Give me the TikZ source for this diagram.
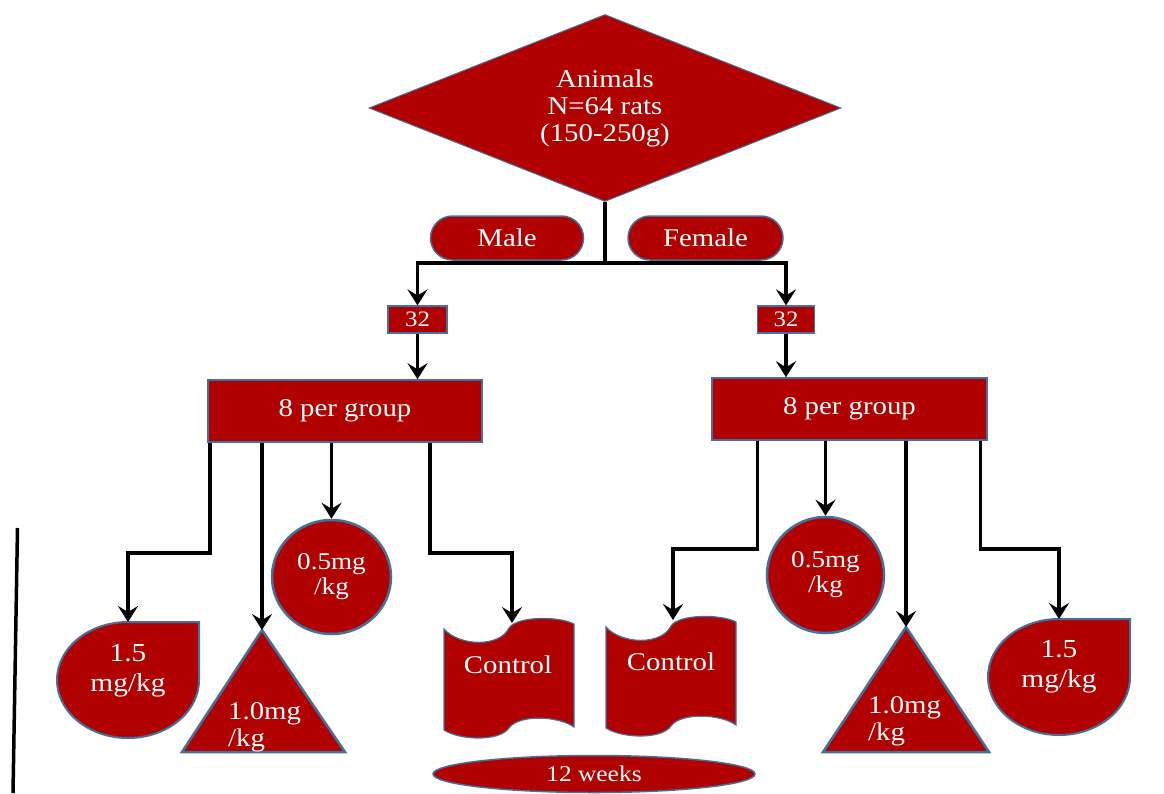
\documentclass[tikz,border=0pt]{standalone}
\usepackage{fontspec}
\setmainfont{Liberation Serif}[FakeStretch=1.13]
\usepackage{tikz}
\usetikzlibrary{positioning}
\usetikzlibrary{shapes.geometric}
\usetikzlibrary{arrows.meta}
\usepackage{xcolor}

\definecolor{ratred}{RGB}{176,0,0}
\definecolor{edgeblue}{RGB}{65,113,156}

% tape shaped box, drawn round a centre point
\newcommand{\tapebox}[1]{%
  \path[blk, line width=1.2pt, shift={#1}]
    (-65,-49) .. controls (-50,-32) and (-10,-30) .. (0,-50)
    .. controls (8,-62) and (50,-62) .. (65,-54) -- (65,49)
    .. controls (50,38) and (10,36) .. (0,50)
    .. controls (-10,64) and (-50,62) .. (-65,52) -- cycle;}

\begin{document}
\begin{tikzpicture}[x=1pt, y=-1pt,
    every node/.style={text=white, align=center, font=\fontsize{25.5}{27}\selectfont},
    blk/.style={fill=ratred, draw=edgeblue, line width=1.5pt},
    ln/.style={line width=3.6pt},
    arr/.style={ln, -{Stealth[length=16pt, width=20pt, inset=6pt]}}]
        \useasboundingbox (0,0) rectangle (1164,793);

        \node[blk, diamond, aspect=2.5, inner sep=0pt, minimum width=472pt, minimum height=187pt, line width=1pt] (animals) at (605,108) {Animals\\N=64 rats\\(150-250g)};
        \node[blk, rounded corners=22pt, minimum width=153pt, minimum height=44pt] (male) at (507,238) {Male};
        \node[blk, rounded corners=22pt, minimum width=155pt, minimum height=44pt] (female) at (705.5,238) {Female};

        \node[blk, minimum width=59pt, minimum height=27pt, line width=1.2pt, font=\fontsize{22}{22}\selectfont] (nL) at (417.5,319.5) {32};
        \node[blk, minimum width=57pt, minimum height=27pt, line width=1.2pt, font=\fontsize{22}{22}\selectfont] (nR) at (786,319.5) {32};

        \node[blk, minimum width=274pt, minimum height=62pt] (grpL) at (345,411) {8 per group};
        \node[blk, minimum width=275pt, minimum height=62pt] (grpR) at (849.5,409) {8 per group};

        % left group
        \coordinate (dropL) at (128,622);
        \path[blk, line width=2pt] (dropL) -- (199,622) -- (199,680) arc[start angle=0, end angle=270, x radius=71, y radius=58] -- cycle;
        \node (dropLtxt) at (128,671) [font=\fontsize{26}{30}\selectfont] {1.5\\mg/kg};

        \coordinate (triL) at (262,630);
        \path[blk, line width=2.5pt] (triL) -- (345,752) -- (182,752) -- cycle;
        \node[align=left, anchor=west, inner sep=0pt] (triLtxt) at (228,727) {1.0mg\\/kg};

        \node[blk, ellipse, minimum width=119pt, minimum height=114pt, line width=2.5pt, font=\fontsize{24}{25}\selectfont] (doseL) at (331.5,577) {0.5mg\\/kg};

        \tapebox{(509,678)}
        \coordinate (tapeL) at (512,623);
        \node (ctlL) at (508,665) {Control};

        % right group
        \tapebox{(671,676)}
        \coordinate (tapeR) at (673,620);
        \node (ctlR) at (671,662) {Control};

        \node[blk, ellipse, minimum width=117pt, minimum height=116pt, line width=2.5pt, font=\fontsize{24}{25}\selectfont] (doseR) at (825.5,575) {0.5mg\\/kg};

        \coordinate (triR) at (906,627);
        \path[blk, line width=2.5pt] (triR) -- (989,752) -- (823,752) -- cycle;
        \node[align=left, anchor=west, inner sep=0pt] (triRtxt) at (868,721) {1.0mg\\/kg};

        \coordinate (dropR) at (1059,619);
        \path[blk, line width=2pt] (dropR) -- (1130,619) -- (1130,677) arc[start angle=0, end angle=270, x radius=71, y radius=58] -- cycle;
        \node (dropRtxt) at (1059,667) [font=\fontsize{26}{30}\selectfont] {1.5\\mg/kg};

        \node[blk, ellipse, minimum width=322pt, minimum height=37pt, font=\fontsize{22.5}{22}\selectfont] (weeks) at (594,774) {12 weeks};

        % connectors
        \coordinate (hub) at (605,263);
        \draw[ln] (animals.south) -- (hub);
        \draw[arr] (hub) -| (nL.north);
        \draw[arr] (hub) -| (nR.north);
        \draw[arr] (nL.south) -- (nL.south |- grpL.north);
        \draw[arr] (nR.south) -- (nR.south |- grpR.north);

        \draw[arr] ([xshift=-135pt]grpL.south) -- ++(0,110) -| (dropL);
        \draw[arr] (triL |- grpL.south) -- (triL);
        \draw[arr] (doseL.north |- grpL.south) -- (doseL.north);
        \draw[arr] ([xshift=85pt]grpL.south) -- ++(0,110) -| (tapeL);

        \draw[arr] ([xshift=-92pt]grpR.south) -- ++(0,108) -| (tapeR);
        \draw[arr] (doseR.north |- grpR.south) -- (doseR.north);
        \draw[arr] (triR |- grpR.south) -- (triR);
        \draw[arr] ([xshift=131pt]grpR.south) -- ++(0,108) -| (dropR);

        \draw[line width=3.5pt] (17.5,528) -- (13,793);
    \end{tikzpicture}
\end{document}
